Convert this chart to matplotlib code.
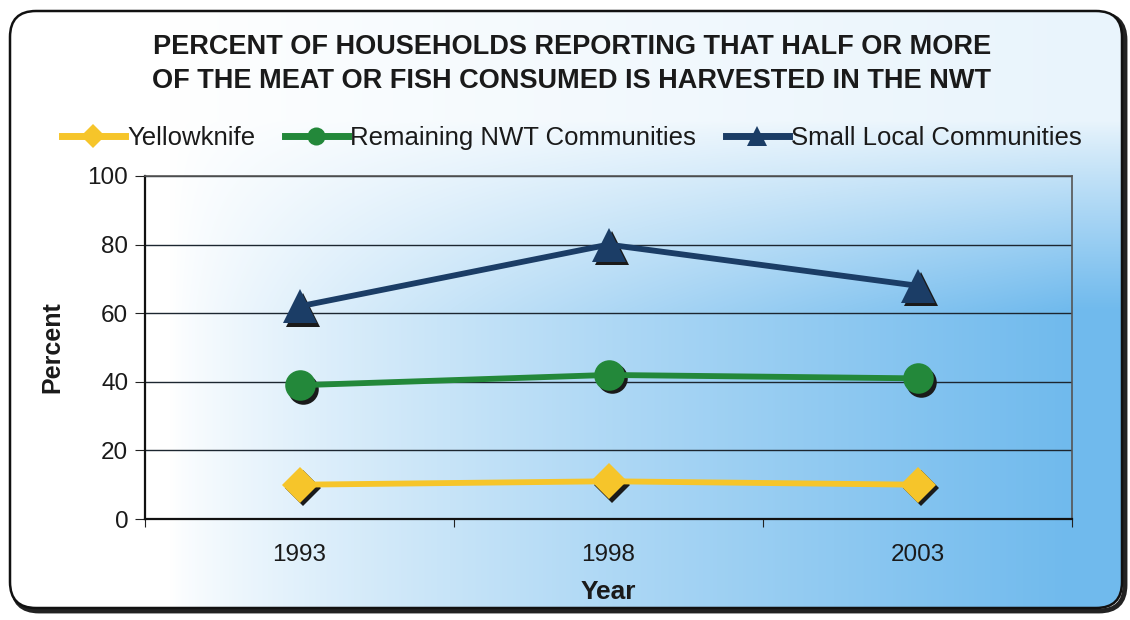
import numpy as np
import matplotlib.pyplot as plt
from matplotlib.patches import FancyBboxPatch
from matplotlib.lines import Line2D
import matplotlib.transforms as mtransforms

plt.rcParams['font.family'] = ['Liberation Sans', 'DejaVu Sans']

years = ["1993", "1998", "2003"]
yellowknife = [10, 11, 10]
remaining_nwt = [39, 42, 41]
small_local = [62, 80, 68]

series_names = ["Yellowknife", "Remaining NWT Communities", "Small Local Communities"]
series_colors = ["#f6c52a", "#23883a", "#1b3d66"]
series_markers = ["D", "o", "^"]
series_sizes = [18, 22, 24]

fig = plt.figure(figsize=(11.3, 6.2), dpi=100)
fig.patch.set_facecolor("white")

# rounded frame, white at the top and left fading to blue at the bottom right
bg_ax = fig.add_axes([0, 0, 1, 1], zorder=0)
bg_ax.set_xlim(0, 1130)
bg_ax.set_ylim(620, 0)
bg_ax.axis("off")
px, py = np.meshgrid(np.linspace(10, 1122, 400), np.linspace(11, 608, 220))
tx = np.clip((px - 170) / 900, 0, 1) ** 0.8
ty = np.clip((py - 120) / 190, 0, 1) ** 0.9
t = np.clip(tx * (0.15 + 0.85 * ty), 0, 1)
c0 = np.array([1.0, 1.0, 1.0])
c1 = np.array([0.44, 0.73, 0.93])
img = c0 + (c1 - c0) * t[..., None]
frame = FancyBboxPatch((10, 11), 1112, 597, boxstyle="round,pad=0,rounding_size=26",
                       facecolor="none", edgecolor="none")
bg_ax.add_patch(frame)
im = bg_ax.imshow(img, extent=[10, 1122, 608, 11], aspect="auto", interpolation="bilinear")
im.set_clip_path(frame)
shadow = FancyBboxPatch((13, 14), 1112, 597, boxstyle="round,pad=0,rounding_size=26",
                        facecolor="none", edgecolor="#222222", linewidth=3.5, zorder=-1)
bg_ax.add_patch(shadow)
border = FancyBboxPatch((10, 11), 1112, 597, boxstyle="round,pad=0,rounding_size=26",
                        facecolor="none", edgecolor="#111111", linewidth=1.8)
bg_ax.add_patch(border)

ax = fig.add_axes([145 / 1130, 101 / 620, 927 / 1130, 343 / 620], zorder=1)
ax.patch.set_alpha(0)

x = np.arange(len(years)) + 0.5
data = [yellowknife, remaining_nwt, small_local]
shadow_tr = mtransforms.offset_copy(ax.transData, fig=fig, x=3.5, y=-3.5, units="dots")
for vals, color, mk, ms in zip(data, series_colors, series_markers, series_sizes):
    ax.plot(x, vals, linestyle="none", marker=mk, markersize=ms, color="#1a1a1a",
            markeredgewidth=0, transform=shadow_tr, zorder=3, clip_on=False)
    ax.plot(x, vals, color=color, linewidth=4.2, marker=mk, markersize=ms,
            markeredgewidth=0, zorder=4, clip_on=False)

ax.set_xlim(0, 3)
ax.set_ylim(0, 100)
ax.set_yticks(range(0, 101, 20))
ax.yaxis.grid(True, color="#1c2630", linewidth=1)
ax.set_axisbelow(True)
ax.set_xticks([0, 1, 2, 3])
ax.set_xticklabels([])
ax.set_xticks(x, minor=True)
ax.set_xticklabels(years, minor=True)
ax.tick_params(axis="x", which="minor", length=0, pad=18, labelsize=17.5, labelcolor="#1a1a1a")
ax.tick_params(axis="x", which="major", length=6, direction="out", color="#222222")
ax.tick_params(axis="y", length=7, direction="out", labelsize=17.5, pad=5, color="#222222",
               labelcolor="#1a1a1a")
for side in ["left", "bottom"]:
    ax.spines[side].set_color("#111111")
    ax.spines[side].set_linewidth(1.6)
for side in ["top", "right"]:
    ax.spines[side].set_color("#555555")
    ax.spines[side].set_linewidth(1.2)

ax.set_ylabel("Percent", fontsize=18, fontweight="bold", labelpad=17, color="#1a1a1a")
ax.set_xlabel("Year", fontsize=19, fontweight="bold", labelpad=10, color="#1a1a1a")

fig.text(0.506, 0.897, "PERCENT OF HOUSEHOLDS REPORTING THAT HALF OR MORE\nOF THE MEAT OR FISH CONSUMED IS HARVESTED IN THE NWT",
         ha="center", va="center", fontsize=19.5, fontweight="bold", color="#1a1a1a",
         linespacing=1.42)

handles = [Line2D([], [], color=c, linewidth=5, marker=m, markersize=s, markeredgewidth=0)
           for c, m, s in zip(series_colors, series_markers, [12, 13, 14])]
fig.legend(handles, series_names, loc="center", bbox_to_anchor=(0.506, 0.777), ncol=3,
           frameon=False, fontsize=18.5, handlelength=2.45, handletextpad=0.1,
           columnspacing=1.15, labelcolor="#1a1a1a")

fig.savefig("out.png", dpi=100)
